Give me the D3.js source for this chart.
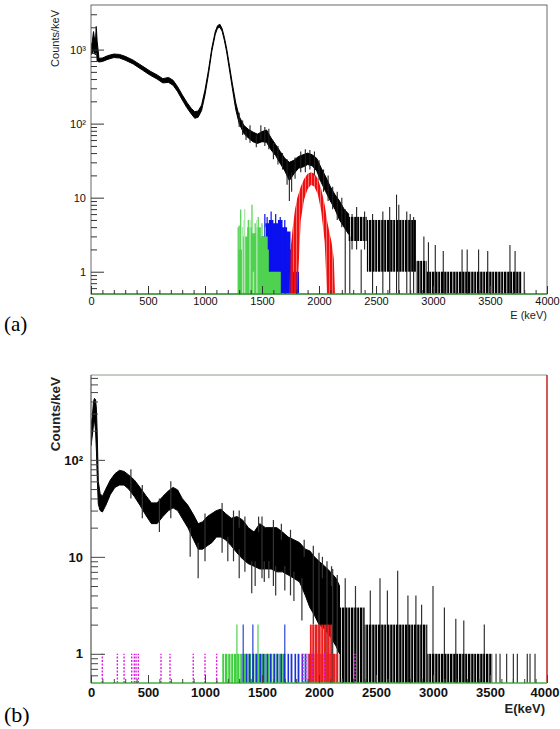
<!DOCTYPE html>
<html>
<head>
<meta charset="utf-8">
<script src="https://cdn.jsdelivr.net/npm/d3@7"></script>
<style>
    body { margin: 0; background: #fff; }
    .sans { font-family: "Liberation Sans", Arial, sans-serif; }
</style>
</head>
<body>
<svg id="chart" width="560" height="729"></svg>
<script>
// ---------- panel (a) ----------
var aEnergy = [0, 12, 22, 28, 38, 46, 54, 70, 100, 150, 200, 250, 300, 370, 450, 520, 580, 630, 680, 720,
    760, 800, 840, 880, 910, 940, 970, 1000, 1030, 1060, 1090, 1110, 1130, 1150, 1170, 1190, 1210, 1240, 1270, 1300,
    1340, 1380, 1420, 1460, 1500, 1540, 1580, 1620, 1660, 1700, 1740, 1780, 1820, 1860, 1900, 1940, 1980, 2020, 2060, 2100,
    2140, 2180, 2220, 2260];
var aLow = [850, 900, 1000, 900, 850, 1100, 700, 680, 690, 740, 780, 770, 720, 640, 530, 450, 400, 355, 360, 330,
    270, 210, 165, 135, 118, 122, 150, 245, 460, 950, 1600, 1950, 2000, 1780, 1330, 930, 590, 300, 155, 100,
    74, 64, 57, 54, 57, 56, 44, 37, 29, 23, 17, 21, 25, 26, 28, 27, 23, 16, 12, 9,
    7, 5, 4, 3.2];
var aHigh = [1100, 1300, 1750, 1500, 1200, 2050, 1300, 760, 770, 830, 870, 860, 810, 720, 600, 510, 455, 405, 420, 385,
    315, 245, 195, 160, 145, 148, 178, 285, 520, 1050, 1750, 2100, 2200, 1920, 1460, 1030, 670, 345, 190, 125,
    95, 84, 77, 72, 78, 82, 64, 52, 42, 34, 30, 32, 36, 38, 40, 38, 34, 25, 19, 14,
    11, 9, 7, 6];
// [energy, from, to]
var aSegments = [[1330, 70, 110], [1360, 60, 80], [1395, 55, 95], [1450, 48, 70], [1490, 60, 95], [1525, 50, 90],
    [1560, 45, 85], [1600, 33, 55], [1640, 28, 50], [1680, 24, 40], [1720, 15, 33], [1740, 9, 20], [1760, 12, 22],
    [1790, 18, 35], [1840, 22, 42], [1880, 22, 45], [1920, 24, 44], [1960, 20, 42], [2000, 17, 32], [2040, 12, 24],
    [2080, 9, 20], [2120, 7, 14], [2160, 5, 12], [2200, 4, 10], [1300, 90, 140],
    [2230, 0.5, 7], [2270, 0.5, 3], [2290, 2, 6], [2330, 2, 7.5], [2370, 0.5, 2], [2400, 2, 6.5], [2470, 0.5, 6],
    [2560, 0.5, 6.5], [2620, 0.5, 7.5], [2680, 0.5, 11], [2700, 0.5, 8], [2770, 0.5, 6.5], [2800, 0.5, 6],
    [2830, 0.5, 5.5], [2920, 0.5, 3], [2960, 0.5, 2.5], [3020, 0.5, 2.3], [3090, 0.5, 1.9], [3255, 0.5, 2],
    [3300, 0.5, 2], [3400, 0.5, 2], [3480, 0.5, 1.9], [3675, 0.5, 2.3], [3720, 0.5, 1.9], [3800, 0.5, 1]];
// [from energy, to energy, low, high]
var aBlocks = [[2260, 2420, 2.6, 5.5], [2420, 2850, 1, 5], [2850, 2945, 0.5, 1.4], [2945, 3780, 0.5, 1]];

var aBlueEnergy = [1395, 1480, 1500, 1530, 1560, 1600, 1640, 1680, 1720, 1750, 1770, 1820, 1825];
var aBlueHigh = [1, 1, 3, 4.5, 5, 4.5, 5, 4, 3.5, 2, 1, 1, 0.5];
var aBlueSpikes = [[1525, 6], [1545, 5.5], [1580, 6.5], [1620, 6], [1660, 5.5], [1700, 5]];

var aGreenEnergy = [1280, 1290, 1330, 1370, 1410, 1450, 1490, 1520, 1550, 1560, 1660, 1665];
var aGreenHigh = [0.5, 2, 3, 4, 3.3, 4, 3, 3, 2, 1, 1, 0.5];
var aGreenSpikes = [[1291, 4], [1300, 4.2], [1313, 6.9], [1345, 5], [1380, 5], [1412, 8], [1440, 4.5],
    [1467, 5.5], [1500, 4.5], [1530, 4]];
var aGreenLight = [[1330, 4], [1348, 7], [1395, 5], [1455, 5], [1425, 1]];

var aRedEnergy = [1740, 1750, 1770, 1790, 1810, 1840, 1870, 1900, 1930, 1960, 1990, 2020, 2050, 2070, 2090, 2110, 2130, 2140];
var aRedHigh = [0.5, 2, 4, 7, 10, 14, 18, 21, 22, 21, 18, 13, 8, 5, 3.5, 2.5, 1.5, 0.5];
var aRedLow = [0.5, 0.5, 0.5, 0.5, 0.5, 5, 9.5, 13, 15, 14, 11, 6.5, 2.5, 0.5, 0.5, 0.5, 0.5, 0.5];

var aYTicks = [1, 10, 100, 1000];
var aYLabels = ['1', '10', '10\u00b2', '10\u00b3'];

// ---------- panel (b) ----------
var bEnergy = [0, 12, 22, 30, 40, 48, 56, 64, 80, 100, 130, 170, 210, 250, 290, 330, 380, 430, 480, 530,
    580, 630, 680, 720, 760, 800, 850, 900, 940, 980, 1020, 1060, 1100, 1140, 1180, 1230, 1280, 1330, 1380, 1430,
    1480, 1530, 1580, 1630, 1680, 1730, 1780, 1830, 1880, 1920, 1960, 2000, 2050, 2100, 2150, 2180];
var bLow = [140, 180, 230, 260, 200, 120, 60, 35, 30, 29, 34, 44, 52, 55, 55, 50, 42, 34, 27, 22,
    22, 26, 30, 32, 30, 25, 20, 15, 12, 12, 13, 14, 16, 16, 15, 13, 11, 9.5, 8.5, 8,
    7.5, 7.5, 7.5, 7, 7, 6.5, 6, 5.5, 4, 3, 2.5, 2, 1.8, 1.5, 1.2, 1];
var bHigh = [230, 280, 400, 430, 420, 330, 160, 60, 45, 42, 50, 62, 72, 78, 76, 70, 62, 52, 43, 36,
    36, 42, 48, 52, 49, 40, 34, 27, 22, 23, 26, 28, 30, 31, 28, 25, 26, 24, 20, 18,
    22, 20, 20, 20, 18, 16, 15, 14, 12, 11.5, 10, 9, 8, 7, 6, 5];
var bSegments = [[350, 40, 80], [450, 25, 55], [600, 18, 40], [700, 25, 60], [1000, 9, 28], [1150, 11, 36],
    [1250, 9, 30], [1350, 7, 26], [1500, 6, 26], [1600, 5, 24], [1750, 4, 19], [1950, 2, 13], [2000, 1, 11],
    [2070, 0.5, 9], [2120, 0.5, 7.5], [2160, 0.5, 6.5],
    [870, 10, 20], [940, 6, 14], [1200, 9, 16], [1300, 6, 12], [1410, 4.2, 9], [1440, 5, 9],
    [1520, 5.5, 9], [1560, 6, 9], [1620, 4, 8], [1700, 4.5, 8], [1780, 3.5, 7], [1850, 2.2, 6],
    [1300, 20, 30], [1470, 18, 26], [1670, 15, 22], [1870, 10, 15], [2030, 6, 10], [2110, 5, 8],
    [2230, 0.5, 6], [2320, 0.5, 5], [2450, 0.5, 4.5], [2535, 0.5, 6], [2600, 0.5, 4.5], [2690, 0.5, 7.2],
    [2780, 0.5, 4], [2850, 0.5, 4], [2900, 0.5, 3.2], [3000, 0.5, 5], [3100, 0.5, 3], [3200, 0.5, 2.3],
    [3270, 0.5, 2.2], [3450, 0.5, 2], [3553, 0.5, 1], [3588, 0.5, 1], [3646, 0.5, 1], [3705, 0.5, 1],
    [3740, 0.5, 1], [3827, 0.5, 1], [3851, 0.5, 1], [3895, 0.5, 1]];
var bBlocks = [[2180, 2400, 0.5, 3], [2400, 2950, 0.5, 2], [2950, 3300, 0.5, 1], [3300, 3520, 0.5, 1]];

var bGreenBlocks = [[1150, 1700, 0.5, 1]];
var bGreenSpikes = [[1280, 2], [1465, 2]];
var bBlueBlocks = [[1330, 1950, 0.5, 1]];
var bBlueSpikes = [[1335, 2], [1420, 2], [1700, 2]];
var bRedBlocks = [[1900, 2170, 0.5, 1], [1920, 2115, 0.5, 2]];
var bMagenta = [99, 231, 290, 357, 380, 395, 415, 614, 693, 897, 1000, 1102, 1860, 1885, 1940, 2050, 2316];

var bYTicks = [1, 10, 100];
var bYLabels = ['1', '10', '10\u00b2'];

var xTicks = [0, 500, 1000, 1500, 2000, 2500, 3000, 3500, 4000];

// ---------- drawing ----------
var svg = d3.select('#chart');
var defs = svg.append('defs');

function stripePattern(id, color, w, bars) {
    var p = defs.append('pattern')
        .attr('id', id)
        .attr('patternUnits', 'userSpaceOnUse')
        .attr('width', w).attr('height', 10);
    bars.forEach(function (r) {
        p.append('rect').attr('x', r[0]).attr('y', 0).attr('width', r[1]).attr('height', 10).attr('fill', color);
    });
}
stripePattern('st-black', '#000', 9, [[0, 2.4], [3.2, 2.3], [6.2, 2]]);
stripePattern('st-green', '#3fcf3f', 9, [[0, 2.4], [3.2, 2.3], [6.2, 2]]);
stripePattern('st-blue', '#1a32d6', 7, [[0.5, 1.6], [3.6, 1.8]]);
stripePattern('st-red', '#ee1c1c', 9, [[0, 2.6], [3.2, 2.5], [6.2, 2.3]]);
stripePattern('st-red-a', '#f01010', 6, [[0, 2.6], [3, 2.6]]);

function makePanel(cfg) {
    var x = d3.scaleLinear().domain([0, 4000]).range([cfg.left, cfg.right]);
    var y = d3.scaleLog().domain(cfg.yDomain).range([cfg.bottom, cfg.top]);

    defs.append('clipPath').attr('id', cfg.id + '-clip')
        .append('rect')
        .attr('x', cfg.left).attr('y', cfg.top)
        .attr('width', cfg.right - cfg.left).attr('height', cfg.bottom - cfg.top);

    var g = svg.append('g');
    var plot = g.append('g').attr('clip-path', 'url(#' + cfg.id + '-clip)');

    return { x: x, y: y, base: cfg.bottom, g: g, plot: plot, cfg: cfg };
}

function yOrBase(p, v) {
    return v <= p.y.domain()[0] ? p.base : p.y(v);
}

function drawBand(p, E, lo, hi, fill, stroke) {
    var rows = E.map(function (e, i) { return { e: e, lo: lo[i], hi: hi[i] }; });
    p.plot.append('path').datum(rows)
        .attr('d', d3.area()
            .x(function (d) { return p.x(d.e); })
            .y0(function (d) { return yOrBase(p, d.lo); })
            .y1(function (d) { return p.y(d.hi); }))
        .attr('fill', fill)
        .attr('stroke', stroke)
        .attr('stroke-width', 1);
}

function drawFromBase(p, E, hi, color) {
    var rows = E.map(function (e, i) { return { e: e, hi: hi[i] }; });
    p.plot.append('path').datum(rows)
        .attr('d', d3.area()
            .curve(d3.curveStepAfter)
            .x(function (d) { return p.x(d.e); })
            .y0(p.base)
            .y1(function (d) { return p.y(d.hi); }))
        .attr('fill', color);
}

function drawSegments(p, segs, color, width, dash) {
    p.plot.selectAll(null).data(segs).enter().append('line')
        .attr('x1', function (d) { return p.x(d[0]); })
        .attr('x2', function (d) { return p.x(d[0]); })
        .attr('y1', function (d) { return yOrBase(p, d[1]); })
        .attr('y2', function (d) { return p.y(d[2]); })
        .attr('stroke', color)
        .attr('stroke-width', width)
        .attr('stroke-dasharray', dash || null);
}

function spikesToSegs(list) {
    return list.map(function (d) { return [d[0], 0.5, d[1]]; });
}

function drawBlocks(p, blocks, fill) {
    p.plot.selectAll(null).data(blocks).enter().append('rect')
        .attr('x', function (d) { return p.x(d[0]); })
        .attr('width', function (d) { return p.x(d[1]) - p.x(d[0]); })
        .attr('y', function (d) { return p.y(d[3]); })
        .attr('height', function (d) { return yOrBase(p, d[2]) - p.y(d[3]); })
        .attr('fill', fill);
}

function drawAxes(p, opt) {
    var cfg = p.cfg;
    var minors = [0.6, 0.7, 0.8, 0.9];
    [1, 10, 100, 1000].forEach(function (dec) {
        for (var k = 2; k <= 9; k++) {
            if (dec * k < cfg.yDomain[1]) { minors.push(dec * k); }
        }
    });

    var yMinor = p.g.append('g').attr('transform', 'translate(' + cfg.left + ',0)')
        .call(d3.axisLeft(p.y).tickValues(minors).tickSizeInner(-opt.yMinor).tickSizeOuter(0).tickFormat(''));
    var yMajor = p.g.append('g').attr('transform', 'translate(' + cfg.left + ',0)')
        .call(d3.axisLeft(p.y).tickValues(opt.yTicks).tickSizeInner(-opt.yMajor).tickSizeOuter(0)
            .tickPadding(opt.yPad)
            .tickFormat(function (d, i) { return opt.yLabels[i]; }));

    var xMinor = p.g.append('g').attr('transform', 'translate(0,' + cfg.bottom + ')')
        .call(d3.axisBottom(p.x).tickValues(d3.range(100, 4000, 100)).tickSizeInner(-opt.xMinor).tickSizeOuter(0).tickFormat(''));
    var xMajor = p.g.append('g').attr('transform', 'translate(0,' + cfg.bottom + ')')
        .call(d3.axisBottom(p.x).tickValues(xTicks).tickSizeInner(-opt.xMajor).tickSizeOuter(0)
            .tickPadding(opt.xPad).tickFormat(d3.format('d')));

    [yMinor, yMajor, xMinor, xMajor].forEach(function (a) {
        a.select('.domain').remove();
        a.selectAll('line').attr('stroke', opt.tickColor);
        a.selectAll('text')
            .attr('class', 'sans')
            .attr('font-size', opt.fontSize)
            .attr('font-weight', opt.bold ? 'bold' : 'normal')
            .attr('fill', '#111');
    });
    return xMajor;
}

// ----- (a) -----
var pa = makePanel({ id: 'a', left: 91, right: 547, top: 5, bottom: 294, yDomain: [0.5, 4000] });

drawBand(pa, aEnergy, aLow, aHigh, '#000', '#000');
drawSegments(pa, aSegments, '#222', 1.1);
drawBlocks(pa, aBlocks, 'url(#st-black)');
drawFromBase(pa, aBlueEnergy, aBlueHigh, '#0a10ee');
drawSegments(pa, spikesToSegs(aBlueSpikes), '#0a10ee', 1.2);
drawFromBase(pa, aGreenEnergy, aGreenHigh, '#4fd24f');
drawSegments(pa, spikesToSegs(aGreenSpikes), '#4fd24f', 1.2);
drawSegments(pa, spikesToSegs(aGreenLight), '#aee8ae', 1.4);
drawBand(pa, aRedEnergy, aRedLow, aRedHigh, 'url(#st-red-a)', 'none');

pa.g.append('rect')
    .attr('x', 91).attr('y', 5).attr('width', 456).attr('height', 289)
    .attr('fill', 'none').attr('stroke', '#6a6a6a').attr('stroke-width', 1);
pa.g.append('line')
    .attr('x1', 91).attr('x2', 547).attr('y1', 294).attr('y2', 294)
    .attr('stroke', '#3c9c3c').attr('stroke-width', 1.5);

drawAxes(pa, {
    yTicks: aYTicks, yLabels: aYLabels, yMajor: 13, yMinor: 6, yPad: 5,
    xMajor: 8, xMinor: 4, xPad: 3, tickColor: '#333', fontSize: 11, bold: false
});

pa.g.append('text').attr('class', 'sans')
    .attr('transform', 'translate(59,10) rotate(-90)')
    .attr('text-anchor', 'end')
    .attr('font-size', 11)
    .attr('fill', '#222')
    .text('Counts/keV');
pa.g.append('text').attr('class', 'sans')
    .attr('x', 547).attr('y', 319)
    .attr('text-anchor', 'end')
    .attr('font-size', 11)
    .attr('fill', '#222')
    .text('E (keV)');
svg.append('text')
    .attr('x', 4).attr('y', 331)
    .attr('font-family', '"Liberation Serif", "Times New Roman", serif')
    .attr('font-size', 21)
    .text('(a)');

// ----- (b) -----
var pb = makePanel({ id: 'b', left: 91, right: 547, top: 375, bottom: 683, yDomain: [0.5, 750] });

drawBand(pb, bEnergy, bLow, bHigh, '#000', '#000');
drawSegments(pb, bSegments, '#333', 1.2);
drawBlocks(pb, bBlocks, 'url(#st-black)');
drawBlocks(pb, bGreenBlocks, 'url(#st-green)');
drawSegments(pb, spikesToSegs(bGreenSpikes), '#3fcf3f', 1.1);
drawBlocks(pb, bBlueBlocks, 'url(#st-blue)');
drawSegments(pb, spikesToSegs(bBlueSpikes), '#1a32d6', 1.1);
drawBlocks(pb, bRedBlocks, 'url(#st-red)');
drawSegments(pb, bMagenta.map(function (e) { return [e, 0.5, 1]; }), '#e01ee0', 1.4, '2,1.5');

pb.g.append('line')
    .attr('x1', 91).attr('x2', 547).attr('y1', 375).attr('y2', 375)
    .attr('stroke', '#8a9a8a').attr('stroke-width', 1.2);
pb.g.append('line')
    .attr('x1', 91).attr('x2', 91).attr('y1', 375).attr('y2', 683)
    .attr('stroke', '#555').attr('stroke-width', 1.2);
pb.g.append('line')
    .attr('x1', 547).attr('x2', 547).attr('y1', 375).attr('y2', 683)
    .attr('stroke', '#c83030').attr('stroke-width', 1.6);
pb.g.append('line')
    .attr('x1', 91).attr('x2', 547).attr('y1', 683).attr('y2', 683)
    .attr('stroke', '#3cb43c').attr('stroke-width', 1.6);

var bxAxis = drawAxes(pb, {
    yTicks: bYTicks, yLabels: bYLabels, yMajor: 14, yMinor: 7, yPad: 8,
    xMajor: 8, xMinor: 4, xPad: 5, tickColor: '#444', fontSize: 13, bold: true
});
// keep the last tick label inside the page
bxAxis.selectAll('text').filter(function (d) { return d === 4000; })
    .attr('text-anchor', 'end').attr('x', 12);

pb.g.append('text').attr('class', 'sans')
    .attr('transform', 'translate(60,377) rotate(-90)')
    .attr('text-anchor', 'end')
    .attr('font-size', 13.5)
    .attr('font-weight', 'bold')
    .attr('fill', '#222')
    .text('Counts/keV');
pb.g.append('text').attr('class', 'sans')
    .attr('x', 545).attr('y', 713)
    .attr('text-anchor', 'end')
    .attr('font-size', 13)
    .attr('font-weight', 'bold')
    .attr('fill', '#222')
    .text('E(keV)');
svg.append('text')
    .attr('x', 4).attr('y', 722)
    .attr('font-family', '"Liberation Serif", "Times New Roman", serif')
    .attr('font-size', 22)
    .text('(b)');
</script>
</body>
</html>
